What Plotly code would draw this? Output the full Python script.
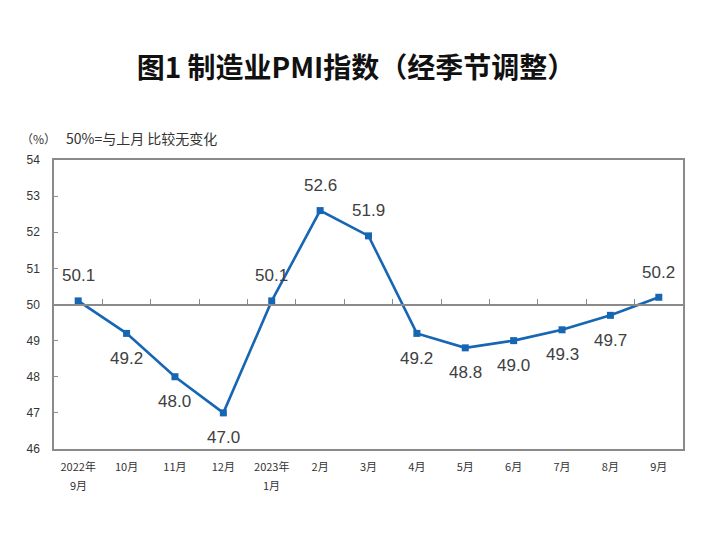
import plotly.graph_objects as go

# 制造业PMI指数（经季节调整）
months = ["2022年9月", "10月", "11月", "12月", "2023年1月", "2月", "3月",
          "4月", "5月", "6月", "7月", "8月", "9月"]
pmi = [50.1, 49.2, 48.0, 47.0, 50.1, 52.6, 51.9, 49.2, 48.8, 49.0, 49.3, 49.7, 50.2]
label_side = ["above", "below", "below", "below", "above", "above", "above",
              "below", "below", "below", "below", "below", "above"]
y_ticks = [46, 47, 48, 49, 50, 51, 52, 53, 54]

blue = "#1766B3"
grey = "#8A8A8A"
cjk = "Noto Sans CJK SC"

# 年份放在刻度标签里，跨年处的月份单独放在第二行
tick_text = [m.split("年")[0] + "年" if "年" in m else m for m in months]
second_line = [(m, m.split("年")[1]) for m in months if "年" in m]

fig = go.Figure()
fig.add_trace(go.Scatter(
    x=months, y=pmi, mode="lines+markers",
    line=dict(color=blue, width=2.6),
    marker=dict(symbol="square", size=7, color=blue),
    hoverinfo="x+y", showlegend=False,
))

# 数值标签
for m, v, side in zip(months, pmi, label_side):
    fig.add_annotation(
        x=m, y=v, text=f"{v:.1f}", showarrow=False,
        yshift=25 if side == "above" else -25,
        font=dict(family="Arial, Liberation Sans", size=17, color="#404040"),
    )

for m, txt in second_line:
    fig.add_annotation(
        x=m, xref="x", y=0, yref="paper", yanchor="middle", yshift=-36,
        text=txt, showarrow=False,
        font=dict(family=cjk, size=11, color="#333333"),
    )

fig.add_annotation(xref="paper", yref="paper", x=-0.056, y=1.076,
                   xanchor="left", yanchor="middle",
                   text="（%）", showarrow=False,
                   font=dict(family=cjk, size=12, color="#333333"))
fig.add_annotation(xref="paper", yref="paper", x=0.016, y=1.076,
                   xanchor="left", yanchor="middle",
                   text="50%=与上月 比较无变化", showarrow=False,
                   font=dict(family=cjk, size=14, color="#333333"))

# 页面 body 自带 8px 边距，所以画布尺寸和边距都相应减小
fig.update_layout(
    width=696, height=545,
    margin=dict(l=46, r=21, t=152, b=104),
    paper_bgcolor="white", plot_bgcolor="white",
    title=dict(text="<b>图1 制造业PMI指数（经季节调整）</b>", x=0.5, xanchor="center",
               y=0.89, yanchor="middle",
               font=dict(family=cjk, size=28, color="#111111")),
    xaxis=dict(
        type="category", range=[-0.5, 12.5], automargin=False,
        tickvals=months, ticktext=tick_text,
        showline=True, linecolor=grey, linewidth=1.5, mirror=True,
        ticks="", showgrid=False, zeroline=False,
        tickfont=dict(family=cjk, size=11, color="#333333"),
        ticklabelstandoff=7,
    ),
    # 50%分界线（带刻度）
    xaxis2=dict(
        type="category", range=[-0.5, 12.5], overlaying="x",
        anchor="free", position=0.5, side="bottom",
        showline=True, linecolor=grey, linewidth=1.5,
        ticks="inside", ticklen=5, tickcolor=grey, tickson="boundaries",
        showticklabels=False, showgrid=False, zeroline=False,
        categoryorder="array", categoryarray=months,
    ),
    yaxis=dict(
        range=[46, 54], tickvals=y_ticks, automargin=False,
        showline=True, linecolor=grey, linewidth=1.5, mirror=True,
        ticks="inside", ticklen=4, tickcolor=grey,
        showgrid=False, zeroline=False,
        tickfont=dict(family="Liberation Sans", size=12, color="#333333"),
        ticklabelstandoff=10,
    ),
)

# 在xaxis2上放一条不可见的辅助轨迹，使分界线坐标轴显示
fig.add_trace(go.Scatter(x=months, y=pmi, xaxis="x2", mode="markers",
                         marker=dict(opacity=0), hoverinfo="skip", showlegend=False))

fig.write_html("out.html")
